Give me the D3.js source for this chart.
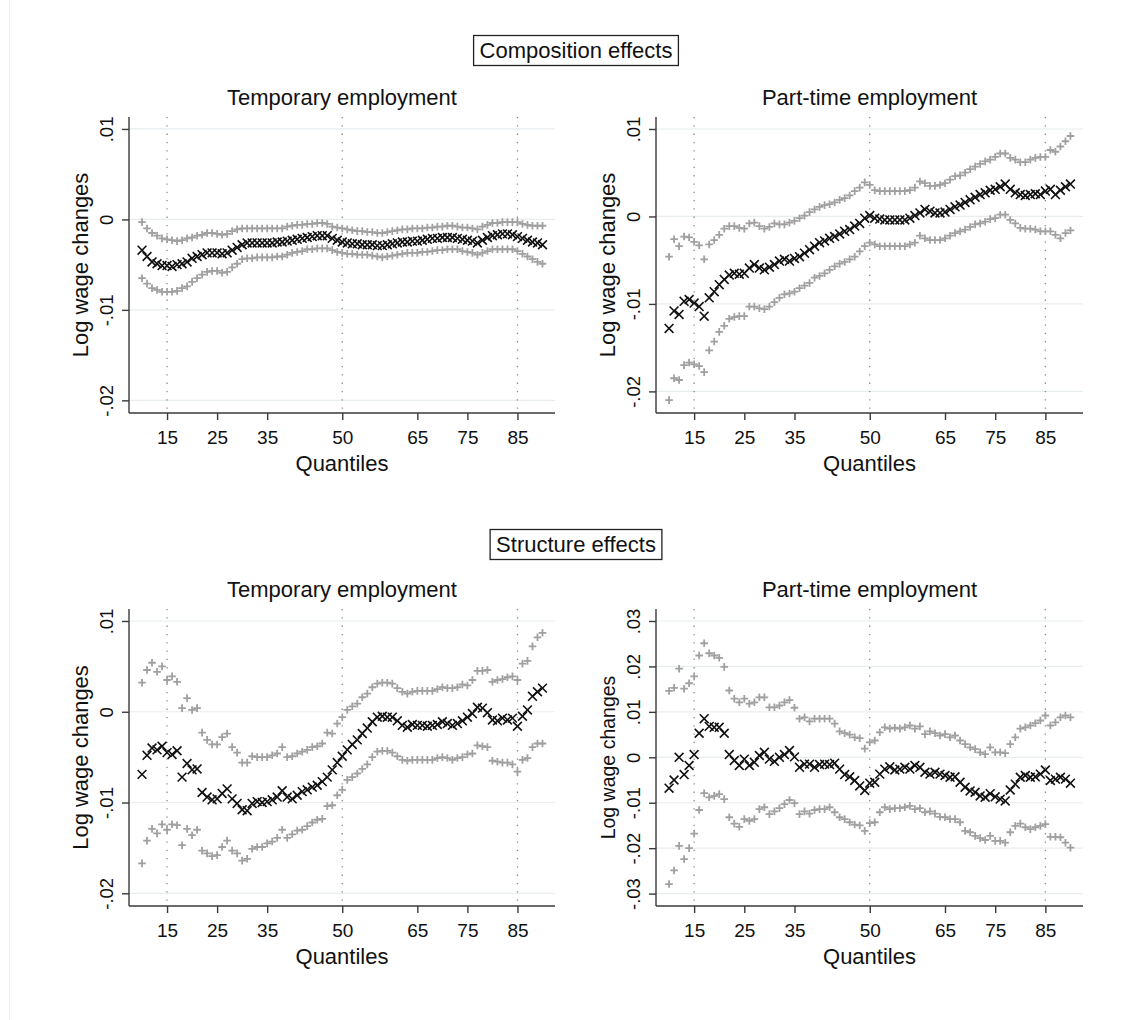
<!DOCTYPE html>
<html>
<head>
<meta charset="utf-8">
<script src="https://cdn.jsdelivr.net/npm/d3@7"></script>
<style>
  html, body { margin: 0; padding: 0; background: #fff; }
  svg { display: block; font-family: "Liberation Sans", Arial, sans-serif; }
</style>
</head>
<body>
<svg id="chart" width="1135" height="1020"></svg>
<script>
// Quantiles at which the decomposition is evaluated
const quantiles = [
  10, 11, 12, 13, 14, 15, 16, 17, 18, 19,
  20, 21, 22, 23, 24, 25, 26, 27, 28, 29,
  30, 31, 32, 33, 34, 35, 36, 37, 38, 39,
  40, 41, 42, 43, 44, 45, 46, 47, 48, 49,
  50, 51, 52, 53, 54, 55, 56, 57, 58, 59,
  60, 61, 62, 63, 64, 65, 66, 67, 68, 69,
  70, 71, 72, 73, 74, 75, 76, 77, 78, 79,
  80, 81, 82, 83, 84, 85, 86, 87, 88, 89,
  90
];
const xTicks = [15, 25, 35, 50, 65, 75, 85];
const refLines = [15, 50, 85];

// Composition effects, temporary employment
const compTempEst = [
  -0.0034, -0.0041, -0.0047, -0.0049, -0.0051, -0.0051, -0.0052, -0.0050, -0.0049, -0.0047,
  -0.0043, -0.0041, -0.0039, -0.0037, -0.0037, -0.0037, -0.0038, -0.0037, -0.0034, -0.0031,
  -0.0028, -0.0026, -0.0026, -0.0026, -0.0026, -0.0026, -0.0026, -0.0025, -0.0025, -0.0024,
  -0.0023, -0.0022, -0.0021, -0.0020, -0.0019, -0.0018, -0.0018, -0.0018, -0.0021, -0.0023,
  -0.0025, -0.0026, -0.0027, -0.0027, -0.0028, -0.0028, -0.0028, -0.0029, -0.0029, -0.0028,
  -0.0027, -0.0026, -0.0025, -0.0025, -0.0024, -0.0024, -0.0023, -0.0022, -0.0021, -0.0021,
  -0.0020, -0.0020, -0.0020, -0.0021, -0.0022, -0.0023, -0.0024, -0.0026, -0.0023, -0.0020,
  -0.0018, -0.0017, -0.0016, -0.0016, -0.0017, -0.0019, -0.0021, -0.0023, -0.0025, -0.0026,
  -0.0028
];
const compTempHi = [
  -0.0003, -0.0010, -0.0015, -0.0018, -0.0021, -0.0022, -0.0023, -0.0024, -0.0023, -0.0021,
  -0.0020, -0.0018, -0.0017, -0.0015, -0.0015, -0.0016, -0.0017, -0.0016, -0.0013, -0.0011,
  -0.0010, -0.0010, -0.0010, -0.0010, -0.0010, -0.0010, -0.0010, -0.0010, -0.0010, -0.0008,
  -0.0007, -0.0006, -0.0006, -0.0005, -0.0005, -0.0004, -0.0004, -0.0005, -0.0008, -0.0009,
  -0.0010, -0.0011, -0.0012, -0.0013, -0.0013, -0.0014, -0.0014, -0.0015, -0.0015, -0.0014,
  -0.0013, -0.0012, -0.0011, -0.0011, -0.0010, -0.0010, -0.0010, -0.0009, -0.0009, -0.0008,
  -0.0008, -0.0007, -0.0007, -0.0008, -0.0009, -0.0009, -0.0010, -0.0011, -0.0008, -0.0006,
  -0.0004, -0.0004, -0.0003, -0.0003, -0.0003, -0.0003, -0.0005, -0.0006, -0.0007, -0.0007,
  -0.0007
];
const compTempLo = [
  -0.0065, -0.0071, -0.0076, -0.0078, -0.0080, -0.0080, -0.0080, -0.0079, -0.0076, -0.0074,
  -0.0069, -0.0065, -0.0061, -0.0058, -0.0057, -0.0057, -0.0059, -0.0058, -0.0053, -0.0049,
  -0.0044, -0.0043, -0.0043, -0.0042, -0.0042, -0.0042, -0.0042, -0.0041, -0.0041, -0.0039,
  -0.0037, -0.0036, -0.0035, -0.0033, -0.0033, -0.0032, -0.0032, -0.0032, -0.0034, -0.0036,
  -0.0037, -0.0038, -0.0038, -0.0039, -0.0039, -0.0039, -0.0040, -0.0041, -0.0042, -0.0041,
  -0.0040, -0.0039, -0.0038, -0.0037, -0.0037, -0.0037, -0.0036, -0.0036, -0.0035, -0.0034,
  -0.0034, -0.0033, -0.0033, -0.0033, -0.0035, -0.0036, -0.0037, -0.0039, -0.0037, -0.0035,
  -0.0033, -0.0033, -0.0033, -0.0033, -0.0033, -0.0035, -0.0038, -0.0041, -0.0044, -0.0047,
  -0.0049
];

// Composition effects, part-time employment
const compPartEst = [
  -0.0128, -0.0108, -0.0112, -0.0097, -0.0095, -0.0099, -0.0103, -0.0114, -0.0093, -0.0086,
  -0.0078, -0.0072, -0.0067, -0.0065, -0.0066, -0.0065, -0.0059, -0.0055, -0.0059, -0.0061,
  -0.0058, -0.0055, -0.0051, -0.0049, -0.0051, -0.0048, -0.0046, -0.0042, -0.0038, -0.0034,
  -0.0030, -0.0028, -0.0025, -0.0023, -0.0020, -0.0017, -0.0015, -0.0011, -0.0008, -0.0002,
   0.0001, -0.0002, -0.0003, -0.0004, -0.0004, -0.0004, -0.0004, -0.0004, -0.0002,  0.0001,
   0.0004,  0.0008,  0.0006,  0.0004,  0.0004,  0.0005,  0.0008,  0.0011,  0.0013,  0.0016,
   0.0019,  0.0022,  0.0025,  0.0027,  0.0030,  0.0031,  0.0034,  0.0037,  0.0031,  0.0027,
   0.0025,  0.0024,  0.0025,  0.0026,  0.0025,  0.0029,  0.0031,  0.0025,  0.0030,  0.0034,
   0.0037
];
const compPartHi = [
  -0.0046, -0.0026, -0.0034, -0.0023, -0.0024, -0.0029, -0.0033, -0.0049, -0.0032, -0.0027,
  -0.0021, -0.0014, -0.0011, -0.0011, -0.0013, -0.0014, -0.0008, -0.0007, -0.0011, -0.0014,
  -0.0012, -0.0008, -0.0009, -0.0009, -0.0007, -0.0005, -0.0002,  0.0001,  0.0005,  0.0008,
   0.0011,  0.0013,  0.0014,  0.0016,  0.0019,  0.0021,  0.0024,  0.0029,  0.0033,  0.0039,
   0.0036,  0.0030,  0.0029,  0.0029,  0.0029,  0.0029,  0.0029,  0.0029,  0.0030,  0.0033,
   0.0040,  0.0038,  0.0035,  0.0035,  0.0036,  0.0038,  0.0042,  0.0046,  0.0047,  0.0050,
   0.0054,  0.0057,  0.0060,  0.0063,  0.0065,  0.0068,  0.0072,  0.0072,  0.0067,  0.0065,
   0.0062,  0.0062,  0.0065,  0.0067,  0.0068,  0.0068,  0.0076,  0.0074,  0.0080,  0.0086,
   0.0092
];
const compPartLo = [
  -0.0210, -0.0185, -0.0187, -0.0170, -0.0167, -0.0169, -0.0171, -0.0178, -0.0153, -0.0143,
  -0.0132, -0.0125, -0.0117, -0.0115, -0.0114, -0.0114, -0.0103, -0.0103, -0.0105, -0.0106,
  -0.0103, -0.0098, -0.0093, -0.0089, -0.0088, -0.0086, -0.0082, -0.0079, -0.0076, -0.0070,
  -0.0068, -0.0065, -0.0061, -0.0057, -0.0054, -0.0052, -0.0049, -0.0046, -0.0040, -0.0034,
  -0.0030, -0.0032, -0.0034, -0.0034, -0.0034, -0.0034, -0.0034, -0.0034, -0.0032, -0.0030,
  -0.0022, -0.0025, -0.0027, -0.0027, -0.0027, -0.0025, -0.0022, -0.0019, -0.0017, -0.0015,
  -0.0012, -0.0009, -0.0008, -0.0006, -0.0003, -0.0002,  0.0002,  0.0002, -0.0004, -0.0008,
  -0.0013, -0.0014, -0.0014, -0.0015, -0.0017, -0.0017, -0.0017, -0.0021, -0.0025, -0.0019,
  -0.0016
];

// Structure effects, temporary employment
const strTempEst = [
  -0.0069, -0.0048, -0.0040, -0.0042, -0.0038, -0.0045, -0.0047, -0.0043, -0.0072, -0.0057,
  -0.0064, -0.0063, -0.0089, -0.0094, -0.0097, -0.0096, -0.0090, -0.0085, -0.0096, -0.0101,
  -0.0108, -0.0109, -0.0101, -0.0099, -0.0100, -0.0099, -0.0097, -0.0094, -0.0087, -0.0094,
  -0.0096, -0.0092, -0.0088, -0.0086, -0.0083, -0.0081, -0.0077, -0.0072, -0.0064, -0.0056,
  -0.0049, -0.0042, -0.0036, -0.0031, -0.0024, -0.0018, -0.0011, -0.0006, -0.0005, -0.0006,
  -0.0006, -0.0010, -0.0015, -0.0017, -0.0014, -0.0015, -0.0015, -0.0016, -0.0015, -0.0014,
  -0.0011, -0.0013, -0.0015, -0.0013, -0.0010, -0.0006, -0.0002,  0.0005,  0.0004, -0.0001,
  -0.0009, -0.0010, -0.0007, -0.0009, -0.0007, -0.0016, -0.0005,  0.0002,  0.0017,  0.0022,
   0.0026
];
const strTempHi = [
   0.0032,  0.0046,  0.0054,  0.0044,  0.0050,  0.0035,  0.0039,  0.0033,  0.0004,  0.0015,
   0.0002,  0.0004, -0.0023, -0.0031, -0.0036, -0.0036, -0.0028, -0.0024, -0.0039, -0.0045,
  -0.0056, -0.0056, -0.0049, -0.0050, -0.0050, -0.0050, -0.0048, -0.0046, -0.0039, -0.0050,
  -0.0049, -0.0046, -0.0044, -0.0042, -0.0039, -0.0038, -0.0035, -0.0023, -0.0024, -0.0013,
  -0.0006,  0.0002,  0.0006,  0.0009,  0.0016,  0.0020,  0.0027,  0.0031,  0.0032,  0.0032,
   0.0031,  0.0026,  0.0022,  0.0020,  0.0022,  0.0023,  0.0023,  0.0023,  0.0023,  0.0025,
   0.0027,  0.0026,  0.0026,  0.0027,  0.0030,  0.0029,  0.0035,  0.0045,  0.0045,  0.0046,
   0.0033,  0.0035,  0.0036,  0.0038,  0.0039,  0.0035,  0.0053,  0.0056,  0.0072,  0.0082,
   0.0087
];
const strTempLo = [
  -0.0167, -0.0142, -0.0129, -0.0134, -0.0124, -0.0130, -0.0124, -0.0125, -0.0147, -0.0129,
  -0.0136, -0.0130, -0.0153, -0.0156, -0.0159, -0.0158, -0.0149, -0.0142, -0.0153, -0.0156,
  -0.0164, -0.0162, -0.0151, -0.0149, -0.0149, -0.0145, -0.0143, -0.0139, -0.0130, -0.0139,
  -0.0135, -0.0131, -0.0130, -0.0126, -0.0122, -0.0119, -0.0118, -0.0104, -0.0103, -0.0092,
  -0.0086, -0.0075, -0.0072, -0.0068, -0.0063, -0.0058, -0.0050, -0.0044, -0.0043, -0.0043,
  -0.0045, -0.0049, -0.0053, -0.0054, -0.0053, -0.0053, -0.0053, -0.0053, -0.0053, -0.0051,
  -0.0050, -0.0051, -0.0053, -0.0051, -0.0050, -0.0047, -0.0046, -0.0037, -0.0038, -0.0039,
  -0.0054, -0.0055, -0.0056, -0.0056, -0.0058, -0.0066, -0.0053, -0.0051, -0.0039, -0.0035,
  -0.0035
];

// Structure effects, part-time employment
const strPartEst = [
  -0.0068, -0.0050,  0.0000, -0.0038, -0.0018,  0.0006,  0.0053,  0.0085,  0.0068,  0.0066,
   0.0066,  0.0053,  0.0006, -0.0007, -0.0018, -0.0004, -0.0018, -0.0011,  0.0004,  0.0011,
  -0.0004, -0.0009,  0.0000,  0.0006,  0.0015,  0.0001, -0.0022, -0.0015, -0.0015, -0.0022,
  -0.0016, -0.0015, -0.0016, -0.0013, -0.0026, -0.0038, -0.0043, -0.0051, -0.0063, -0.0073,
  -0.0057, -0.0055, -0.0037, -0.0026, -0.0021, -0.0028, -0.0026, -0.0022, -0.0026, -0.0018,
  -0.0022, -0.0033, -0.0037, -0.0033, -0.0037, -0.0040, -0.0044, -0.0043, -0.0055, -0.0066,
  -0.0074, -0.0077, -0.0085, -0.0088, -0.0080, -0.0087, -0.0092, -0.0096, -0.0072, -0.0059,
  -0.0044, -0.0040, -0.0044, -0.0043, -0.0037, -0.0028, -0.0051, -0.0048, -0.0044, -0.0048,
  -0.0057
];
const strPartHi = [
   0.0146,  0.0153,  0.0195,  0.0151,  0.0163,  0.0178,  0.0224,  0.0251,  0.0229,  0.0224,
   0.0219,  0.0199,  0.0147,  0.0129,  0.0121,  0.0129,  0.0118,  0.0121,  0.0132,  0.0132,
   0.0110,  0.0110,  0.0114,  0.0121,  0.0126,  0.0109,  0.0085,  0.0088,  0.0079,  0.0085,
   0.0085,  0.0085,  0.0085,  0.0074,  0.0057,  0.0053,  0.0050,  0.0044,  0.0042,  0.0019,
   0.0033,  0.0037,  0.0055,  0.0066,  0.0063,  0.0065,  0.0063,  0.0066,  0.0070,  0.0063,
   0.0068,  0.0051,  0.0057,  0.0053,  0.0048,  0.0051,  0.0044,  0.0048,  0.0037,  0.0029,
   0.0022,  0.0018,  0.0011,  0.0007,  0.0022,  0.0011,  0.0011,  0.0009,  0.0029,  0.0044,
   0.0063,  0.0066,  0.0070,  0.0075,  0.0081,  0.0092,  0.0070,  0.0077,  0.0088,  0.0092,
   0.0088
];
const strPartLo = [
  -0.0279, -0.0249, -0.0195, -0.0224, -0.0200, -0.0168, -0.0116, -0.0079, -0.0088, -0.0085,
  -0.0081, -0.0092, -0.0132, -0.0146, -0.0153, -0.0136, -0.0140, -0.0136, -0.0114, -0.0110,
  -0.0125, -0.0119, -0.0112, -0.0103, -0.0094, -0.0101, -0.0125, -0.0119, -0.0124, -0.0116,
  -0.0114, -0.0114, -0.0110, -0.0121, -0.0132, -0.0136, -0.0143, -0.0148, -0.0150, -0.0162,
  -0.0145, -0.0143, -0.0121, -0.0110, -0.0114, -0.0112, -0.0112, -0.0110, -0.0107, -0.0114,
  -0.0112, -0.0121, -0.0119, -0.0124, -0.0131, -0.0132, -0.0136, -0.0136, -0.0143, -0.0162,
  -0.0165, -0.0173, -0.0178, -0.0182, -0.0173, -0.0184, -0.0184, -0.0188, -0.0165, -0.0151,
  -0.0146, -0.0154, -0.0158, -0.0154, -0.0151, -0.0147, -0.0175, -0.0175, -0.0176, -0.0188,
  -0.0199
];

const yTicksNarrow = [0.01, 0, -0.01, -0.02];
const yTicksWide = [0.03, 0.02, 0.01, 0, -0.01, -0.02, -0.03];

// Stata-style tick labels: ASCII hyphen, no leading zero (".01", "-.02")
const fmtTick = v => v === 0 ? "0" : d3.format(".2f")(v).replace("\u2212", "-").replace("0.", ".");

const svg = d3.select("#chart");
const W = 1135, H = 1020;

svg.append("rect").attr("width", W).attr("height", H).attr("fill", "#fff");
svg.append("line").attr("x1", 9.5).attr("x2", 9.5).attr("y1", 0).attr("y2", H)
  .attr("stroke", "#ededed").attr("stroke-width", 1);

const colLeft = { x0: 129, x1: 555 };
const colRight = { x0: 656, x1: 1083 };
const rowTop = { y0: 117, y1: 413 };
const rowBottom = { y0: 609, y1: 906 };

const panels = [
  { title: "Temporary employment", col: colLeft, row: rowTop,
    est: compTempEst, hi: compTempHi, lo: compTempLo,
    domain: [-0.0214, 0.01132], ticks: yTicksNarrow, yTitleSize: 22 },
  { title: "Part-time employment", col: colRight, row: rowTop,
    est: compPartEst, hi: compPartHi, lo: compPartLo,
    domain: [-0.02247, 0.01137], ticks: yTicksNarrow, yTitleSize: 22 },
  { title: "Temporary employment", col: colLeft, row: rowBottom,
    est: strTempEst, hi: strTempHi, lo: strTempLo,
    domain: [-0.0214, 0.01132], ticks: yTicksNarrow, yTitleSize: 22 },
  { title: "Part-time employment", col: colRight, row: rowBottom,
    est: strPartEst, hi: strPartHi, lo: strPartLo,
    domain: [-0.03273, 0.03264], ticks: yTicksWide, yTitleSize: 19.5 }
];

const sectionTitles = [
  { text: "Composition effects", cx: 576, cy: 50.5 },
  { text: "Structure effects", cx: 576, cy: 544.5 }
];

const axisColor = "#3a3a3a";
const gridColor = "#e8edef";
const bandColor = "#a0a0a0";
const textColor = "#111";

// Boxed section headers
sectionTitles.forEach(s => {
  const g = svg.append("g");
  const t = g.append("text")
    .attr("x", s.cx).attr("y", s.cy + 7.8)
    .attr("text-anchor", "middle")
    .attr("font-size", 22).attr("fill", textColor)
    .text(s.text);
  const bb = t.node().getBBox();
  g.insert("rect", "text")
    .attr("x", bb.x - 6).attr("y", s.cy - 15)
    .attr("width", bb.width + 12).attr("height", 30)
    .attr("fill", "#fff").attr("stroke", "#222").attr("stroke-width", 1.3);
});

const crossPath = r => `M${-r},${-r}L${r},${r}M${-r},${r}L${r},${-r}`;
const plusPath = r => `M${-r},0L${r},0M0,${-r}L0,${r}`;

panels.forEach(p => {
  const x = d3.scaleLinear().domain([7.4, 92.5]).range([p.col.x0, p.col.x1]);
  const y = d3.scaleLinear().domain(p.domain).range([p.row.y1, p.row.y0]);
  const g = svg.append("g");

  // horizontal grid lines at the labelled values
  g.append("g").selectAll("line").data(p.ticks).join("line")
    .attr("x1", p.col.x0).attr("x2", p.col.x1)
    .attr("y1", d => y(d)).attr("y2", d => y(d))
    .attr("stroke", gridColor).attr("stroke-width", 1.2);

  // dotted reference lines at the 15th, 50th and 85th quantiles
  g.append("g").selectAll("line").data(refLines).join("line")
    .attr("x1", d => x(d)).attr("x2", d => x(d))
    .attr("y1", p.row.y0).attr("y2", p.row.y1)
    .attr("stroke", "#8a8a8a").attr("stroke-width", 1.3)
    .attr("stroke-dasharray", "1.3,7");

  const pts = quantiles.map((q, i) => ({ q, est: p.est[i], hi: p.hi[i], lo: p.lo[i] }));

  // confidence bounds
  ["hi", "lo"].forEach(k => {
    g.append("g").selectAll("path").data(pts).join("path")
      .attr("transform", d => `translate(${x(d.q)},${y(d[k])})`)
      .attr("d", plusPath(3.8))
      .attr("fill", "none").attr("stroke", bandColor).attr("stroke-width", 1.8);
  });

  // point estimates
  g.append("g").selectAll("path").data(pts).join("path")
    .attr("transform", d => `translate(${x(d.q)},${y(d.est)})`)
    .attr("d", crossPath(4.4))
    .attr("fill", "none").attr("stroke", "#111").attr("stroke-width", 1.6);

  // y axis
  const yAxis = d3.axisLeft(y).tickValues(p.ticks).tickFormat(fmtTick).tickSize(7).tickPadding(5);
  const ya = g.append("g").attr("transform", `translate(${p.col.x0},0)`).call(yAxis);
  ya.select(".domain").attr("d", `M0,${p.row.y0}V${p.row.y1}`)
    .attr("stroke", axisColor).attr("stroke-width", 1.4);
  ya.selectAll(".tick line").attr("stroke", axisColor).attr("stroke-width", 1.4);
  ya.selectAll(".tick text")
    .attr("font-size", 18.5).attr("fill", textColor)
    .attr("font-family", "Liberation Sans, Arial, sans-serif")
    .attr("x", null).attr("dy", null)
    .attr("text-anchor", "middle")
    .attr("transform", "translate(-16,0) rotate(-90)");

  // x axis
  const xAxis = d3.axisBottom(x).tickValues(xTicks).tickFormat(d3.format("d")).tickSize(7).tickPadding(11);
  const xa = g.append("g").attr("transform", `translate(0,${p.row.y1})`).call(xAxis);
  xa.select(".domain").attr("d", `M${p.col.x0},0H${p.col.x1}`)
    .attr("stroke", axisColor).attr("stroke-width", 1.4);
  xa.selectAll(".tick line").attr("stroke", axisColor).attr("stroke-width", 1.4);
  xa.selectAll(".tick text").attr("font-size", 19).attr("fill", textColor)
    .attr("font-family", "Liberation Sans, Arial, sans-serif");

  const cx = (p.col.x0 + p.col.x1) / 2;
  const cy = (p.row.y0 + p.row.y1) / 2;

  // panel title
  g.append("text").attr("x", cx).attr("y", p.row.y0 - 12)
    .attr("text-anchor", "middle").attr("font-size", 22).attr("fill", textColor)
    .text(p.title);

  // x axis title
  g.append("text").attr("x", cx).attr("y", p.row.y1 + 58)
    .attr("text-anchor", "middle").attr("font-size", 22).attr("fill", textColor)
    .text("Quantiles");

  // y axis title
  g.append("text")
    .attr("transform", `translate(${p.col.x0 - 41},${cy}) rotate(-90)`)
    .attr("text-anchor", "middle").attr("font-size", p.yTitleSize).attr("fill", textColor)
    .text("Log wage changes");
});
</script>
</body>
</html>
